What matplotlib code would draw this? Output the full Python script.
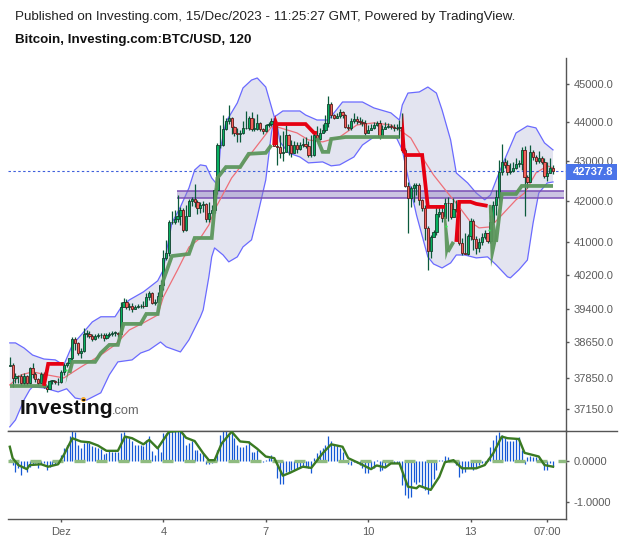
import matplotlib
matplotlib.use("Agg")
import matplotlib.pyplot as plt
from matplotlib.patches import Rectangle

plt.rcParams['font.family'] = ['Liberation Sans', 'DejaVu Sans']

# two hour candles
first_open = 38100
closes = [38130, 37840, 37885, 37880, 37730, 37885, 37730, 38065, 37920, 37820,
          37730, 37920, 37640, 37600, 37775, 37775, 37750, 37750, 37975, 38130,
          38175, 38290, 38720, 38630, 38400, 38450, 38835, 38835, 38790, 38720,
          38790, 38800, 38810, 38745, 38800, 38835, 38860, 38860, 38835, 39460,
          39575, 39460, 39480, 39410, 39460, 39480, 39480, 39475, 39690, 39785,
          39550, 39575, 39715, 39975, 40615, 40735, 41485, 41485, 41560, 41630,
          41780, 41290, 41630, 42005, 42050, 41980, 41830, 41905, 41930, 41560,
          41705, 41780, 42275, 43410, 43410, 43825, 44030, 44110, 43875, 43720,
          43695, 43720, 43850, 43850, 44110, 43825, 43825, 43980, 43825, 43770,
          43925, 43950, 44030, 43385, 43360, 43210, 43235, 43670, 43410, 43210,
          43410, 43310, 43410, 43440, 43385, 43155, 43155, 43670, 43565, 43720,
          43800, 43980, 44475, 44185, 44110, 44160, 44265, 44185, 43875, 43850,
          44030, 44080, 44030, 44005, 43980, 43720, 43800, 43850, 43925, 43980,
          43620, 43825, 43875, 43900, 43875, 43850, 43850, 43875, 43285, 42375,
          42075, 42325, 42400, 42400, 42030, 41830, 41340, 40785, 41120, 41240,
          41680, 41730, 41585, 41955, 41950, 41610, 41805, 41780, 40975, 40735,
          40710, 41145, 41510, 41070, 40855, 41000, 41120, 41220, 41025, 41485,
          41905, 42100, 42725, 42980, 42905, 42725, 42750, 42825, 42930, 42930,
          43285, 42600, 42475, 43235, 43105, 43005, 43080, 42980, 42625, 42700,
          42825, 42737.8]
highs = [38310, 38175, 37950, 37910, 37930, 37950, 37910, 38085, 38175, 37975,
         37840, 37975, 37975, 37685, 37795, 37795, 37795, 37840, 38020, 38175,
         38200, 38290, 38765, 38765, 38650, 38515, 38975, 38925, 38905, 38835,
         38835, 38860, 38860, 38860, 38860, 38880, 38905, 38905, 38880, 39575,
         39670, 39645, 39550, 39550, 39505, 39530, 39530, 39600, 39785, 39835,
         39810, 39645, 39810, 40090, 40805, 41050, 41535, 41755, 41780, 42150,
         41855, 41830, 41905, 42050, 42100, 42425, 42030, 41980, 42005, 41955,
         41980, 41905, 42325, 43465, 43925, 44185, 44110, 44445, 44135, 43900,
         43850, 43800, 44030, 44290, 44160, 44265, 44110, 44210, 44005, 43850,
         43950, 44005, 44110, 44110, 43925, 43670, 43775, 43925, 43695, 43540,
         43515, 43490, 43490, 43590, 43615, 43515, 43670, 43745, 43900, 43850,
         43950, 44185, 44685, 44525, 44210, 44240, 44340, 44290, 44210, 43950,
         44110, 44240, 44160, 44135, 44085, 44055, 43925, 43950, 44005, 44030,
         44055, 43925, 44005, 43980, 43950, 43950, 43950, 44055, 44240, 43335,
         42475, 42375, 42450, 42450, 42450, 42050, 41905, 41390, 41170, 41290,
         41905, 41855, 41880, 42075, 42100, 41955, 42075, 42030, 41830, 41095,
         41215, 41195, 41585, 41560, 41145, 41095, 41215, 41290, 41215, 41655,
         42005, 42275, 43030, 43440, 43080, 43030, 42955, 42980, 43080, 43030,
         43360, 43385, 42650, 43410, 43285, 43155, 43260, 43130, 43080, 42980,
         43080, 42905]
lows = [38110, 37640, 37730, 37730, 37685, 37685, 37685, 37705, 37840, 37750,
        37685, 37730, 37620, 37530, 37600, 37705, 37705, 37685, 37730, 37910,
        38085, 38085, 38245, 38470, 38355, 38290, 38425, 38765, 38745, 38675,
        38700, 38745, 38745, 38675, 38720, 38765, 38790, 38790, 38765, 38835,
        39480, 39410, 39390, 39345, 39410, 39435, 39435, 39435, 39480, 39620,
        39530, 39505, 39575, 39715, 39855, 40565, 40660, 41435, 41435, 41485,
        41410, 41240, 41265, 41635, 41880, 41855, 41680, 41705, 41730, 41485,
        41485, 41655, 41705, 42175, 43335, 43385, 43800, 43950, 43695, 43645,
        43490, 43490, 43695, 43825, 43800, 43775, 43775, 43800, 43775, 43695,
        43745, 43875, 43900, 43385, 42905, 43080, 43005, 43285, 43155, 43105,
        43210, 43210, 43285, 43360, 43335, 43105, 43105, 43130, 43515, 43540,
        43720, 43745, 43875, 44110, 44085, 44110, 44110, 44110, 43850, 43800,
        43800, 43980, 43950, 43950, 43900, 43670, 43720, 43800, 43825, 43900,
        43565, 43775, 43825, 43850, 43825, 43775, 43800, 43590, 43235, 42350,
        41215, 41855, 41980, 42150, 41905, 41755, 41050, 40330, 40615, 41145,
        41170, 41610, 41485, 41610, 41510, 41560, 41705, 41730, 40925, 40685,
        40710, 40685, 41050, 40805, 40710, 40760, 40925, 41070, 40975, 40975,
        41435, 41655, 41980, 42650, 42825, 42650, 42675, 42725, 42800, 42850,
        42775, 41635, 42325, 42475, 43030, 42930, 42955, 42930, 42575, 42500,
        42725, 42675]

# bollinger bands and middle average, read at the turning points
upper_bars = [0, 2, 5, 8, 12, 16, 19, 22, 26, 29, 32, 37, 39, 42, 47, 52, 54, 55, 57, 60,
              63, 65, 67, 69, 71, 73, 74, 76, 80, 82, 85, 87, 90, 92, 93, 94, 96, 102, 104,
              108, 112, 114, 117, 124, 128, 134, 137, 138, 140, 144, 147, 150, 152, 155,
              157, 161, 164, 167, 169, 172, 175, 178, 182, 185, 188, 191]
upper_vals = [38630, 38630, 38515, 38355, 38265, 38245, 38130, 38585, 38880, 39110, 39230,
              39230, 39435, 39620, 39810, 40070, 40330, 40735, 41460, 41855, 42325, 42775,
              42905, 42880, 42575, 42400, 43285, 44005, 44500, 44895, 45105, 45160, 44920,
              44395, 44135, 44185, 44290, 44290, 44185, 44055, 44055, 44240, 44525, 44525,
              44370, 44240, 44055, 44445, 44760, 44790, 44920, 44760, 44315, 43540, 42700,
              42450, 42200, 42030, 42150, 42700, 43210, 43720, 43900, 43850, 43465, 43285]
lower_bars = [0, 2, 5, 7, 8, 12, 17, 20, 23, 27, 32, 35, 38, 43, 46, 49, 53, 55, 60, 63, 67,
              68, 70, 71, 72, 75, 77, 80, 82, 85, 87, 90, 92, 93, 94, 95, 98, 102, 105, 110,
              113, 116, 121, 124, 128, 134, 136, 138, 140, 143, 147, 149, 152, 155, 157,
              160, 164, 168, 171, 175, 176, 179, 182, 184, 186, 189, 191]
lower_vals = [36765, 36915, 37353, 37574, 37640, 37620, 37530, 37600, 37395, 37350, 37510,
              37910, 38200, 38245, 38400, 38470, 38650, 38540, 38425, 38700, 39225, 39390,
              40165, 40640, 40855, 40685, 40520, 40640, 40880, 41050, 41610, 42525, 43720,
              44110, 43925, 43490, 43210, 43105, 42955, 42980, 42880, 42905, 43105, 43410,
              43615, 43615, 43590, 43285, 42600, 41655, 40640, 40470, 40375, 40495, 40685,
              40685, 40615, 40640, 40450, 40165, 40140, 40330, 40565, 41460, 42200, 42450,
              42475]
ma_bars = [0, 4, 8, 13, 19, 25, 32, 37, 42, 47, 52, 54, 59, 63, 67, 70, 72, 78, 85, 92, 94,
           101, 105, 110, 116, 122, 128, 134, 137, 141, 144, 149, 154, 158, 162, 165, 169,
           173, 178, 181, 185, 189, 191]
ma_vals = [37685, 37910, 37975, 37910, 37840, 38085, 38355, 38585, 38925, 39090, 39270,
           39690, 40330, 40875, 41095, 41410, 41780, 42575, 43210, 43875, 43875, 43720,
           43540, 43490, 43615, 43925, 43980, 43925, 43800, 43590, 43210, 42650, 42200,
           41855, 41485, 41340, 41365, 41655, 42030, 42200, 42700, 42880, 42825]

# thick trend line, one piece per colour change
green_pieces = [
    ([0, 13], [37665, 37665]),
    ([21, 22, 30, 32, 35, 38, 40, 46, 48, 52, 54, 57, 63, 65, 71, 73, 76, 81, 84, 90, 92],
     [37950, 38200, 38200, 38400, 38585, 38585, 39065, 39065, 39295, 39295, 40090, 40660,
      40710, 41095, 41095, 42575, 42850, 42850, 43185, 43210, 43410]),
    ([108, 110, 112, 113, 118, 137], [43590, 43235, 43235, 43565, 43615, 43615]),
    ([154, 155, 156], [40760, 40880, 41000]),
    ([171, 173, 178, 180, 191], [41000, 42175, 42175, 42375, 42375]),
]
# the points where the line flips are thin wedges
green_wedges = [
    ([19.6, 21.8, 20.2], [37705, 38200, 37960]),
    ([152.6, 153.4, 154.6, 153.2], [41610, 41610, 40880, 40560]),
    ([168.4, 169.4, 171.4, 169.2], [41905, 41905, 41100, 40400]),
]
red_pieces = [
    ([12, 13.5, 19], [37665, 38155, 38155]),
    ([94, 104, 107, 108], [43950, 43950, 43720, 43720]),
    ([139, 145, 147, 153], [43155, 43155, 41855, 41855]),
    ([157, 158, 162, 164, 168], [41000, 41980, 41980, 41930, 41880]),
]
red_wedges = [
    ([92.3, 94.2, 94.2, 93.3, 92.6], [43410, 43410, 44000, 44180, 43900]),
    ([137.5, 139.2, 139.2, 138.3, 137.8], [43285, 43100, 43250, 44240, 43800]),
]
flip_bars = [19.8, 153.5, 168.6]
flip_vals = [38020, 41395, 41290]

zone_low = 42075
zone_high = 42250
zone_bars = [58.8, 194.9]
last_price = 42737.8

# lower panel
macd_hist = [0.05, -0.10, -0.26, -0.18, -0.34, -0.14, -0.26, -0.14, -0.10, -0.06, -0.16, -0.08,
             -0.06, -0.22, -0.14, -0.11, -0.11, -0.06, 0.15, 0.31, 0.39, 0.62, 0.74, 0.72,
             0.39, 0.31, 0.43, 0.48, 0.43, 0.38, 0.35, 0.33, 0.30, 0.16, 0.19, 0.27, 0.23,
             0.23, 0.23, 0.68, 0.72, 0.60, 0.56, 0.48, 0.39, 0.39, 0.39, 0.38, 0.52, 0.62,
             0.25, 0.15, 0.31, 0.23, 0.68, 0.68, 0.74, 0.74, 0.74, 0.74, 0.74, 0.68, 0.39,
             0.43, 0.48, 0.27, 0.27, 0.19, 0.19, -0.08, -0.08, -0.06, 0.07, 0.27, 0.64, 0.74,
             0.74, 0.64, 0.68, 0.56, 0.39, 0.35, 0.35, 0.39, 0.48, 0.23, 0.23, 0.27, 0.02,
             -0.02, 0.02, 0.07, 0.15, 0.02, -0.41, -0.57, -0.57, -0.26, -0.26, -0.22, -0.22,
             -0.18, -0.18, -0.14, -0.14, -0.18, -0.30, 0.08, 0.19, 0.27, 0.31, 0.39, 0.62,
             0.48, 0.39, 0.38, 0.33, 0.23, 0.02, -0.08, -0.11, -0.02, -0.06, -0.10, -0.16,
             -0.29, -0.29, -0.20, -0.18, 0.02, -0.24, -0.22, -0.14, -0.06, -0.03, -0.04,
             -0.04, -0.06, -0.59, -0.84, -0.90, -0.88, -0.51, -0.57, -0.51, -0.63, -0.71,
             -0.82, -0.67, -0.43, -0.22, 0.02, 0.02, 0.12, 0.11, 0.02, 0.05, -0.10, -0.39,
             -0.30, -0.28, -0.14, -0.18, -0.22, -0.14, -0.10, -0.06, -0.06, 0.07, 0.35, 0.52,
             0.64, 0.72, 0.64, 0.56, 0.49, 0.48, 0.49, 0.56, 0.60, 0.27, -0.08, 0.11, 0.13,
             0.11, 0.11, 0.07, -0.06, -0.22, -0.22, -0.06, -0.14]
macd_bars = [0, 1, 3, 6, 7, 11, 13.5, 17, 19, 22, 25, 28, 31, 34, 38, 40.5, 43, 47, 49, 52, 54,
             56, 60, 62, 65, 68, 70, 72, 74.5, 78, 81, 84, 87, 90, 93, 96, 98.5, 103, 106, 110,
             113, 117, 119, 123, 127, 129, 132, 134, 137, 140, 143, 144, 148, 151, 153, 156,
             159, 161, 164, 167, 170, 173, 175, 179, 181, 186, 188, 191]
macd_vals = [0.35, 0.07, -0.10, -0.20, -0.10, -0.08, -0.14, -0.08, 0.15, 0.56, 0.48, 0.46, 0.38,
             0.25, 0.25, 0.60, 0.56, 0.41, 0.52, 0.31, 0.52, 0.72, 0.74, 0.57, 0.49, 0.19, 0.02,
             0.02, 0.43, 0.72, 0.48, 0.46, 0.30, 0.11, 0.07, -0.36, -0.29, -0.14, -0.17, 0.19,
             0.41, 0.35, 0.07, -0.06, -0.20, -0.11, -0.16, -0.06, -0.06, -0.63, -0.67, -0.61,
             -0.71, -0.39, -0.03, 0.02, -0.18, -0.18, -0.18, -0.10, 0.19, 0.60, 0.56, 0.54,
             0.20, 0.11, -0.10, -0.14]

price_ticks = [45000, 44000, 43000, 42000, 41000, 40200, 39400, 38650, 37850, 37150]
macd_ticks = [0, -1]
day_ticks = [18, 54, 90, 126, 162, 189]
day_labels = ['Dez', '4', '7', '10', '13', '07:00']

W, H = 624, 542
fig = plt.figure(figsize=(W / 100, H / 100), dpi=100, facecolor='white')


def axes_px(left, top, right, bottom):
    return fig.add_axes([left / W, 1 - bottom / H, (right - left) / W, (bottom - top) / H])


AXIS_GREY = '#555555'
TEXT_GREY = '#5c5c5c'
GREEN = '#5c965c'
RED = '#e60012'

ax = axes_px(8, 58, 566, 431)
ax.set_yscale('log')
ax.set_ylim(36675, 45695)
ax.set_xlim(-0.63, 195.57)

# band
band_x = upper_bars + lower_bars[::-1]
band_y = upper_vals + lower_vals[::-1]
ax.fill(band_x, band_y, color='#e3e4f0', lw=0, zorder=1)
ax.plot(upper_bars, upper_vals, color='#6a6aff', lw=0.9, zorder=2)
ax.plot(lower_bars, lower_vals, color='#6a6aff', lw=0.9, zorder=2)

# zone
ax.fill_between(zone_bars, zone_low, zone_high, color='#8f7fc0', alpha=0.45, lw=0, zorder=2)
ax.hlines([zone_low, zone_high], zone_bars[0], zone_bars[1], color='#7a4fb5', lw=1.1, zorder=3)

ax.plot(ma_bars, ma_vals, color='#ee6f78', lw=0.9, zorder=3)
ax.plot([-0.63, 195.57], [last_price, last_price], color='#3f5fdc', lw=0.8,
        ls=(0, (2.2, 2.2)), zorder=3)

# candles
opens = [first_open] + closes[:-1]
bars = list(range(len(closes)))
ax.vlines(bars, lows, highs, color='#0b5a3c', lw=0.9, zorder=4)
for i in bars:
    up = closes[i] >= opens[i]
    bottom = min(opens[i], closes[i])
    height = max(abs(closes[i] - opens[i]), 10)
    ax.bar(i, height, bottom=bottom, width=0.78,
           color='#08b060' if up else '#f4605a',
           edgecolor='#123f2c' if up else '#5a1a1a', lw=0.6, zorder=5)

for xs, ys in green_pieces:
    ax.plot(xs, ys, color=GREEN, lw=2.7, solid_joinstyle='miter', solid_capstyle='butt',
            alpha=0.95, zorder=6)
for xs, ys in green_wedges:
    ax.fill(xs, ys, color=GREEN, lw=0, alpha=0.95, zorder=6)
for xs, ys in red_pieces:
    ax.plot(xs, ys, color=RED, lw=2.7, solid_joinstyle='miter', solid_capstyle='butt', zorder=6)
for xs, ys in red_wedges:
    ax.fill(xs, ys, color=RED, lw=0, zorder=6)
ax.plot(flip_bars, flip_vals, ls='none', marker='o', ms=1.6, color='#33ee55', mew=0, zorder=7)

for s in ['top', 'left']:
    ax.spines[s].set_visible(False)
ax.spines['bottom'].set_color(AXIS_GREY)
ax.spines['bottom'].set_linewidth(1.0)
ax.spines['right'].set_color(AXIS_GREY)
ax.spines['right'].set_linewidth(1.0)
ax.set_xticks([])
ax.minorticks_off()
ax.yaxis.tick_right()
ax.set_yticks(price_ticks)
ax.set_yticklabels(['%.1f' % t for t in price_ticks])
ax.tick_params(axis='y', which='major', length=2.4, width=1, color=AXIS_GREY, labelcolor=TEXT_GREY,
               labelsize=8.0, pad=3.3)
ax.tick_params(axis='y', which='minor', length=0, labelright=False)

# current price tag
ax.add_patch(Rectangle((566 / W, 1 - 180 / H), 51 / W, 16 / H, transform=fig.transFigure,
                       facecolor='#4a74e8', edgecolor='none', clip_on=False, zorder=8))
fig.text(593.5 / W, 1 - 172 / H, '42737.8', color='white', fontsize=8.0, fontweight='bold',
         ha='center', va='center', zorder=9)

# macd panel
ax2 = axes_px(8, 431, 566, 519)
ax2.set_xlim(-0.63, 195.57)
ax2.set_ylim(-1.425, 0.737)
ax2.vlines(bars, 0, macd_hist, color='#1558d6', lw=0.9, zorder=2)
ax2.plot([-0.63, 195.57], [0, 0], color='#8fbb80', lw=2.4, ls=(0, (3.3, 3.3)), zorder=3,
         clip_on=False)
ax2.plot(macd_bars, macd_vals, color='#3a7a22', lw=1.7, zorder=4)
ax2.spines['left'].set_visible(False)
for s in ['top', 'bottom', 'right']:
    ax2.spines[s].set_color(AXIS_GREY)
    ax2.spines[s].set_linewidth(1.0)
ax2.yaxis.tick_right()
ax2.set_yticks(macd_ticks)
ax2.set_yticklabels(['%.4f' % t for t in macd_ticks])
ax2.set_xticks(day_ticks)
ax2.set_xticklabels(day_labels)
ax2.tick_params(axis='both', length=2.4, width=1, color=AXIS_GREY, labelcolor=TEXT_GREY,
                labelsize=8.0, pad=3.3)

# line between the panels runs out under the scale
fig.add_artist(plt.Line2D([566 / W, 617 / W], [1 - 431 / H, 1 - 431 / H], color=AXIS_GREY, lw=1.0))

# header
fig.text(15 / W, 1 - 17 / H, 'Published on Investing.com, 15/Dec/2023 - 11:25:27 GMT, Powered by TradingView.',
         fontsize=9.62, color='#222222', va='center')
fig.text(15 / W, 1 - 40 / H, 'Bitcoin, Investing.com:BTC/USD, 120', fontsize=9.6,
         fontweight='bold', color='#111111', va='center')

# logo
fig.text(20 / W, 1 - 409 / H, 'Investing', fontsize=15.3, fontweight='bold', color='#111111',
         va='center', zorder=9)
fig.text(112 / W, 1 - 411 / H, '.com', fontsize=9.3, color='#666666', va='center', zorder=9)
fig.add_artist(plt.Line2D([83 / W], [1 - 399 / H], marker='o', ms=2.5, color='#f5a623', lw=0))

fig.savefig('out.png', dpi=100)
